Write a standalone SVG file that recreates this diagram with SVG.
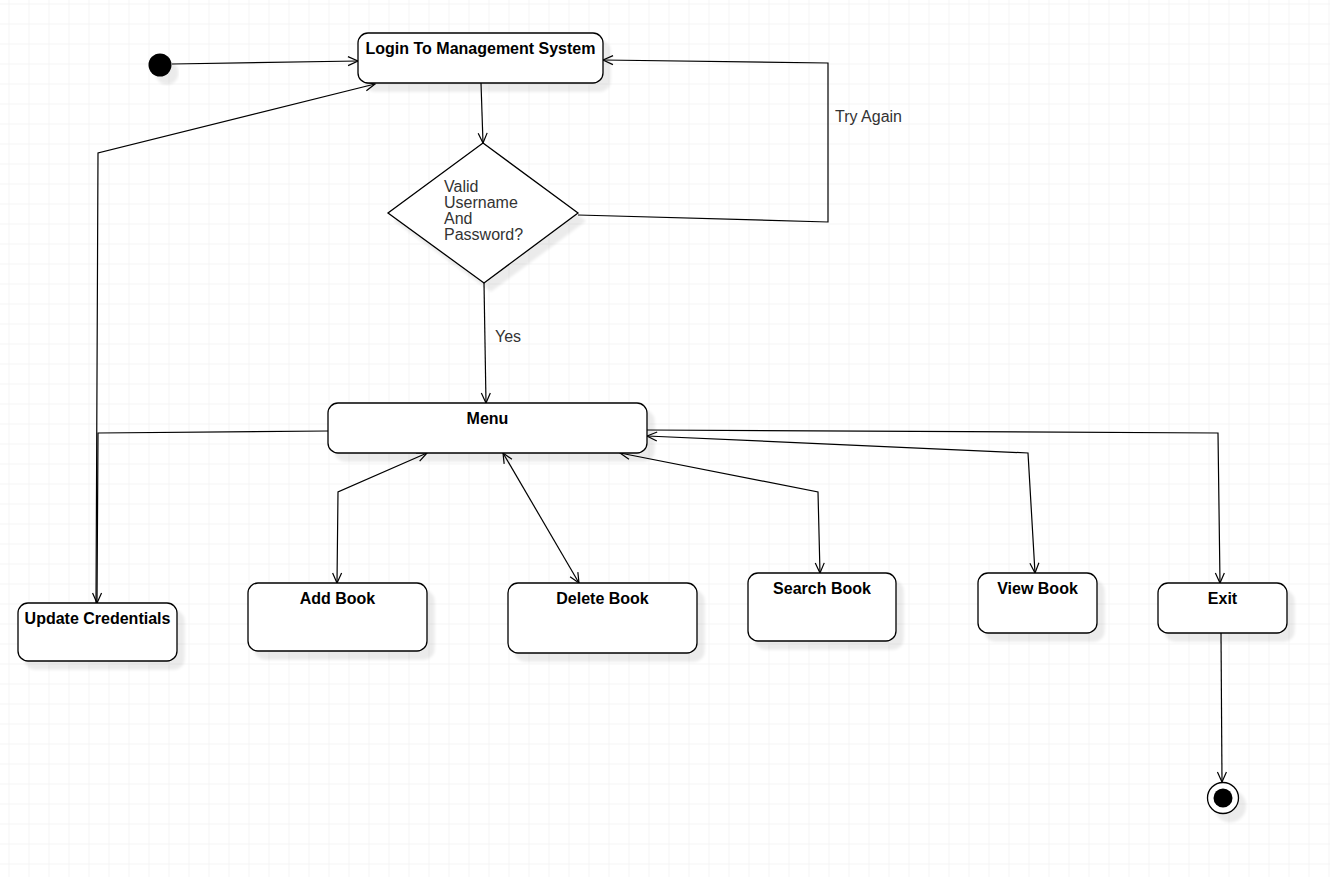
<svg xmlns="http://www.w3.org/2000/svg" width="1330" height="877" viewBox="0 0 1330 877">
  <defs>
    <pattern id="grid" x="8.5" y="3.5" width="20" height="20" patternUnits="userSpaceOnUse">
      <path d="M0 0 H20 M0 0 V20" fill="none" stroke="#ececec" stroke-width="1"/>
    </pattern>
    <filter id="shadow" x="-20%" y="-20%" width="150%" height="160%">
      <feGaussianBlur in="SourceAlpha" stdDeviation="1.5"/>
      <feOffset dx="7" dy="8" result="off"/>
      <feComponentTransfer in="off" result="soft">
        <feFuncA type="linear" slope="0.08"/>
      </feComponentTransfer>
      <feMerge>
        <feMergeNode in="soft"/>
        <feMergeNode in="SourceGraphic"/>
      </feMerge>
    </filter>
    <marker id="open" viewBox="-12 -6 14 12" refX="0" refY="0" markerWidth="14" markerHeight="12" markerUnits="userSpaceOnUse" orient="auto-start-reverse">
      <path d="M-10 -4.5 L0 0 L-10 4.5" fill="none" stroke="#000" stroke-width="1.2"/>
    </marker>
    <style>
      .box { fill: #fff; stroke: #000; stroke-width: 1.3; }
      .label { font-family: "Liberation Sans", Arial, sans-serif; font-size: 16px; font-weight: bold; fill: #000; text-anchor: middle; }
      .note { font-family: "Liberation Sans", Arial, sans-serif; font-size: 16px; fill: #333; }
      .edge { fill: none; stroke: #000; stroke-width: 1.2; }
      .one { marker-end: url(#open); }
      .two { marker-start: url(#open); marker-end: url(#open); }
    </style>
  </defs>

  <!-- canvas -->
  <rect width="1330" height="877" fill="#fff"/>
  <rect width="1330" height="877" fill="url(#grid)"/>

  <!-- connectors -->
  <g id="connectors">
    <path class="edge one" d="M172 64 L358 61"/>
    <path class="edge one" d="M481 83 L483 143"/>
    <path class="edge one" d="M578 215 L828 222 L828 63 L603 60"/>
    <path class="edge one" d="M484 283 L486 403"/>
    <path class="edge one" d="M328 431 L98 433 L97 603"/>
    <path class="edge one" d="M96 603 L98 153 L375 84"/>
    <path class="edge two" d="M427 453 L338 492 L337 583"/>
    <path class="edge two" d="M503 453 L579 583"/>
    <path class="edge two" d="M620 453 L818 492 L820 573"/>
    <path class="edge two" d="M647 436 L1028 453 L1035 573"/>
    <path class="edge one" d="M647 430 L1218 433 L1220 583"/>
    <path class="edge one" d="M1221 633 L1222 782"/>
    <text class="note" x="835" y="122">Try Again</text>
    <text class="note" x="495" y="342">Yes</text>
  </g>

  <!-- initial state -->
  <g id="start">
    <circle cx="160" cy="65" r="11.5" fill="#000" filter="url(#shadow)"/>
  </g>

  <g id="login">
    <rect class="box" x="358" y="33" width="245" height="50" rx="10" filter="url(#shadow)"/>
    <text class="label" x="480.5" y="54">Login To Management System</text>
  </g>

  <g id="decision">
    <polygon class="box" points="483,143 578,213 484,283 388,213" filter="url(#shadow)"/>
    <text class="note" x="444" y="192">Valid</text>
    <text class="note" x="444" y="208">Username</text>
    <text class="note" x="444" y="224">And</text>
    <text class="note" x="444" y="240">Password?</text>
  </g>

  <g id="menu">
    <rect class="box" x="328" y="403" width="319" height="50" rx="10" filter="url(#shadow)"/>
    <text class="label" x="487.5" y="423.5">Menu</text>
  </g>

  <g id="update-credentials">
    <rect class="box" x="18" y="603" width="159" height="58" rx="10" filter="url(#shadow)"/>
    <text class="label" x="97.5" y="623.5">Update Credentials</text>
  </g>

  <g id="add-book">
    <rect class="box" x="248" y="583" width="179" height="68" rx="10" filter="url(#shadow)"/>
    <text class="label" x="337.5" y="603.5">Add Book</text>
  </g>

  <g id="delete-book">
    <rect class="box" x="508" y="583" width="189" height="70" rx="10" filter="url(#shadow)"/>
    <text class="label" x="602.5" y="603.5">Delete Book</text>
  </g>

  <g id="search-book">
    <rect class="box" x="748" y="573" width="148" height="68" rx="10" filter="url(#shadow)"/>
    <text class="label" x="822" y="593.5">Search Book</text>
  </g>

  <g id="view-book">
    <rect class="box" x="978" y="573" width="119" height="60" rx="10" filter="url(#shadow)"/>
    <text class="label" x="1037.5" y="593.5">View Book</text>
  </g>

  <g id="exit">
    <rect class="box" x="1158" y="583" width="129" height="50" rx="10" filter="url(#shadow)"/>
    <text class="label" x="1222.5" y="603.5">Exit</text>
  </g>

  <!-- final state -->
  <g id="end">
    <circle cx="1223" cy="798" r="15.5" fill="#fff" stroke="#000" stroke-width="1.3" filter="url(#shadow)"/>
    <circle cx="1223" cy="798" r="9.5" fill="#000"/>
  </g>
</svg>
